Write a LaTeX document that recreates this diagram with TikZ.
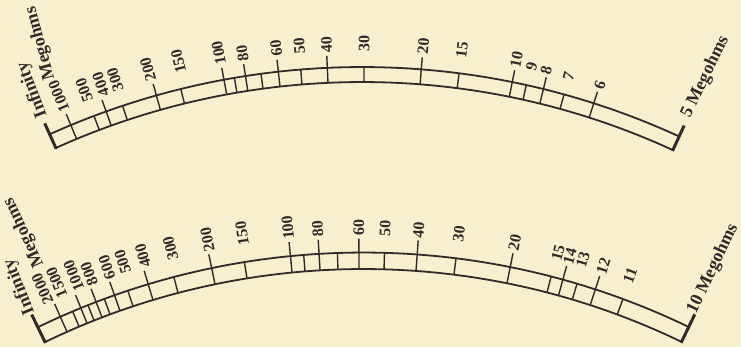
\documentclass[tikz,border=0pt]{standalone}
\usepackage{fontspec}
\setmainfont{Liberation Serif}
\definecolor{paper}{RGB}{246,240,207}
\definecolor{ink}{RGB}{52,40,40}
\begin{document}
\begin{tikzpicture}[x=1pt,y=1pt,
  scaleline/.style={draw=ink, line width=1.8pt},
  tickline/.style={draw=ink, line width=1.4pt},
  endstub/.style={draw=ink, line width=3pt},
  numlabel/.style={inner sep=0pt, anchor=west, text=ink, font=\fontsize{16}{16}\selectfont\bfseries},
  wordlabel/.style={inner sep=0pt, text=ink, font=\fontsize{18}{18}\selectfont\bfseries}]
\fill[paper] (0,0) rectangle (741,347);
\useasboundingbox (0,0) rectangle (741,347);

% ---------- upper scale ----------
\begin{scope}[shift={(362,-479)}]
  \draw[scaleline] (114.3:744) arc[start angle=114.3, end angle=65.3, radius=744];
  \draw[scaleline] (114.3:759) arc[start angle=114.3, end angle=65.3, radius=759];
  \draw[endstub] (114.3:743) -- (114.3:771);
  \draw[endstub] (65.3:743) -- (65.3:771);
  \foreach \a in {-20.68,-18.39,-13.81,-9.68,-7.65,-4.63,0.15,7.35,12.5,15.44}
    \draw[tickline] ({90-(\a)}:744) -- ({90-(\a)}:759);
  \foreach \a in {-22.56,-19.7,-15.72,-10.48,-8.83,-6.33,-2.62,4.48,11.42,13.83,17.78}
    \draw[tickline] ({90-(\a)}:744) -- ({90-(\a)}:771);
  \foreach \a/\t in {-22.56/1000,-20.7/500,-19.4/400,-18.3/300,-15.8/200,-13.5/150,
      -10.5/100,-8.8/80,-6.3/60,-4.6/50,-2.6/40,0.15/30,4.5/20,7.35/15,
      11.4/10,12.6/9,13.7/8,15.4/7,17.8/6}
    \node[numlabel, rotate={90-(\a)}] at ({90-(\a)}:774) {\t};
\end{scope}
\node[wordlabel, rotate=111] (inf1) at (32.5,257) {Infinity};
\node[wordlabel, rotate=105] (meg1) at (40.5,303.7) {Megohms};
\node[wordlabel, rotate=64] (five) at (705.5,270) {5 Megohms};

% ---------- lower scale ----------
\begin{scope}[shift={(363.5,-653)}]
  \draw[scaleline] (115.83:731) arc[start angle=115.83, end angle=64.21, radius=731];
  \draw[scaleline] (115.83:747.5) arc[start angle=115.83, end angle=64.21, radius=747.5];
  \draw[endstub] (115.83:730) -- (115.83:761.5);
  \draw[endstub] (64.21:730) -- (64.21:761.5);
  \foreach \a in {-22.90,-21.63,-20.29,-18.38,-14.70,-9.17,-4.59,-2.0,1.61,7.11,14.54,16.60,20.31}
    \draw[tickline] ({90-(\a)}:731) -- ({90-(\a)}:747.5);
  \foreach \a in {-23.93,-22.22,-20.96,-19.46,-16.74,-11.72,-5.61,-3.41,-0.35,4.12,11.32,15.47,18.07}
    \draw[tickline] ({90-(\a)}:731) -- ({90-(\a)}:761.5);
  \foreach \a/\t in {-24.3/2000,-23.15/1500,-21.8/1000,-20.7/800,-19.3/600,-18.07/500,
      -16.5/400,-14.4/300,-11.6/200,-9.0/150,-5.6/100,-3.4/80,-0.35/60,1.6/50,
      4.1/40,7.1/30,11.3/20,14.6/15,15.5/14,16.5/13,18.1/12,20.2/11}
    \node[numlabel, rotate={90-(\a)}] at ({90-(\a)}:764) {\t};
\end{scope}
\node[wordlabel, rotate=112] (inf2) at (19.5,60) {Infinity};
\node[wordlabel, rotate=115] (meg2) at (24,114.5) {Megohms};
\node[wordlabel, rotate=64.6] (ten) at (713,78) {10 Megohms};
\end{tikzpicture}
\end{document}
